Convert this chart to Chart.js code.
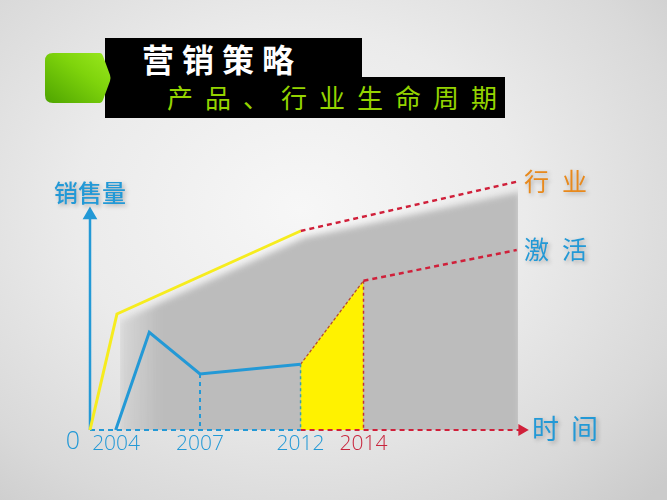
<!DOCTYPE html>
<html>
<head>
<meta charset="utf-8">
<script src="https://cdn.jsdelivr.net/npm/chart.js@4/dist/chart.umd.min.js"></script>
<style>
  html, body { margin:0; padding:0; }
  body {
    width:667px; height:500px; overflow:hidden; position:relative;
    background: radial-gradient(ellipse 75% 80% at 45% 42%, #f7f7f7 0%, #ebebeb 45%, #d9d9d9 80%, #cbcbcb 100%);
    font-family: "Noto Sans CJK SC", "Noto Sans", sans-serif;
  }
  #c { position:absolute; left:0; top:0; }
  .box { position:absolute; background:#000; }
  #box1 { left:105px; top:38px; width:257px; height:40px; }
  #box2 { left:105px; top:77px; width:400px; height:41px; }
  #t1 { position:absolute; left:142px; top:36px; color:#fff; font-size:32px; font-weight:700; letter-spacing:8px; line-height:44px; white-space:nowrap; }
  #t2 { position:absolute; left:167px; top:77px; color:#94d400; font-size:26px; font-weight:400; letter-spacing:12px; line-height:40px; white-space:nowrap; }
  #tab { position:absolute; left:45px; top:53px; }
</style>
</head>
<body>
<div class="box" id="box2"></div>
<div class="box" id="box1"></div>
<svg id="tab" width="68" height="50" viewBox="0 0 68 50">
  <defs>
    <linearGradient id="g" x1="0" y1="1" x2="1" y2="0">
      <stop offset="0" stop-color="#4ea400"/>
      <stop offset="0.6" stop-color="#7fd40c"/>
      <stop offset="1" stop-color="#9ae81e"/>
    </linearGradient>
  </defs>
  <path d="M8 0 H55 Q57 0 58 3 L65 22 Q66 25 65 28 L58 47 Q57 50 55 50 H8 Q0 50 0 42 V8 Q0 0 8 0 Z" fill="url(#g)"/>
</svg>
<div id="t1">营销策略</div>
<div id="t2">产品、行业生命周期</div>
<canvas id="c" width="667" height="500"></canvas>
<script>
// ---- data (x = position on the time line, y = sales level, both 0–100) ----
const yearLabels = ['2004', '2007', '2012', '2014'];
const yearPos = [6.1, 25.7, 49.2, 63.9];

const industryX = [0, 6.3, 49.2];
const industryY = [0, 46.4, 79.6];
const industryTrendX = [49.2, 99.7];
const industryTrendY = [79.6, 99.3];

const productX = [6.0, 13.85, 25.7, 49.2];
const productY = [0, 39.1, 22.4, 26.3];

const activationX = [49.2, 63.9];
const activationY = [26.3, 59.7];
const activationTrendX = [63.9, 99.7];
const activationTrendY = [59.7, 72.0];

const shadowX = [7.0, 50.2, 100.5];
const shadowY = [43.6, 77.0, 95.2];

const timeAxisSplit = 49.2;
const timeAxisEnd = 100.9;
const salesAxisTop = 86.0;

const seriesNames = { industry: '行 业', activation: '激 活', time: '时 间', sales: '销售量' };

// ---- helpers ----
const pts = (xs, ys) => xs.map((x, i) => ({ x, y: ys[i] }));
const BLUE = '#2399d6', RED = '#d0203a', YEL = '#f6ec1e', ORANGE = '#e8891c';

const datasets = [
  { label: 'industry', data: pts(industryX, industryY), borderColor: YEL, borderWidth: 3, order: 1 },
  { label: 'industryTrend', data: pts(industryTrendX, industryTrendY), borderColor: RED, borderWidth: 2.5, borderDash: [5, 4], order: 1 },
  { label: 'product', data: pts(productX, productY), borderColor: BLUE, borderWidth: 3, order: 1 },
  { label: 'activationTrend', data: pts(activationTrendX, activationTrendY), borderColor: RED, borderWidth: 2.5, borderDash: [5, 4], order: 1 },
  { label: 'salesAxis', data: [{ x: 0, y: 0 }, { x: 0, y: salesAxisTop }], borderColor: BLUE, borderWidth: 2.5,
    pointRadius: [0, 6], pointStyle: 'triangle', pointBackgroundColor: BLUE, pointBorderColor: BLUE, order: 2 },
  { label: 'timeAxisA', data: [{ x: 0, y: 0 }, { x: timeAxisSplit, y: 0 }], borderColor: BLUE, borderWidth: 2, borderDash: [5, 4], order: 3 },
  { label: 'timeAxisB', data: [{ x: timeAxisSplit, y: 0 }, { x: timeAxisEnd, y: 0 }], borderColor: RED, borderWidth: 2, borderDash: [5, 4],
    pointRadius: [0, 5], pointStyle: 'triangle', rotation: 90, pointBackgroundColor: RED, pointBorderColor: RED, order: 3 },
  { label: 'guide2007', data: [{ x: productX[2], y: productY[2] }, { x: productX[2], y: 0 }], borderColor: BLUE, borderWidth: 2, borderDash: [4, 4], order: 4 },
  { label: 'guide2012', data: [{ x: activationX[0], y: activationY[0] }, { x: activationX[0], y: 0 }], borderColor: '#3aa0a8', borderWidth: 1.5, borderDash: [3, 3], order: 4 },
  { label: 'guide2014', data: [{ x: activationX[1], y: activationY[1] }, { x: activationX[1], y: 0 }], borderColor: '#c0303a', borderWidth: 1.5, borderDash: [3, 3], order: 4 },
  { label: 'activation', data: pts(activationX, activationY), borderColor: '#b4452c', borderWidth: 1.2, borderDash: [3, 2],
    backgroundColor: '#fff200', fill: { value: 0 }, order: 5 },
  { label: 'shadow', data: pts(shadowX, shadowY), borderWidth: 0, borderColor: 'rgba(0,0,0,0)',
    backgroundColor: (c) => {
      const a = c.chart.chartArea; if (!a) return '#bdbdbd';
      const g = c.chart.ctx.createLinearGradient(a.left + 27, 0, a.left + 70, 0);
      g.addColorStop(0, 'rgba(188,188,188,0.35)');
      g.addColorStop(1, 'rgba(188,188,188,1)');
      return g;
    },
    fill: { value: -20 }, clip: 0, order: 10 }
];
datasets.forEach(d => {
  d.showLine = true;
  if (d.pointRadius === undefined) d.pointRadius = 0;
  if (d.fill === undefined) d.fill = false;
  if (d.clip === undefined) d.clip = false;
  d.tension = 0;
});
const SHADOW_INDEX = datasets.length - 1;

const decorPlugin = {
  id: 'decor',
  beforeDatasetsDraw(chart) { chart.ctx.filter = 'blur(3px)'; },
  afterDatasetDraw(chart, args) { if (args.index === SHADOW_INDEX) chart.ctx.filter = 'none'; },
  afterDatasetsDraw(chart) { chart.ctx.filter = 'none'; },
  afterDraw(chart) {
    const ctx = chart.ctx, xs = chart.scales.x, ys = chart.scales.y;
    const x0 = xs.getPixelForValue(0), y0 = ys.getPixelForValue(0);
    ctx.save();
    ctx.textBaseline = 'alphabetic';
    ctx.textAlign = 'center';
    // year ticks
    ctx.font = '300 21px "Open Sans"';
    yearLabels.forEach((t, i) => {
      ctx.fillStyle = i === yearLabels.length - 1 ? '#c8243c' : BLUE;
      ctx.fillText(t, xs.getPixelForValue(yearPos[i]), y0 + 20);
    });
    ctx.font = '300 25px "Open Sans"';
    ctx.fillStyle = BLUE;
    ctx.fillText('0', x0 - 17, y0 + 19);
    // axis / series names
    ctx.shadowColor = 'rgba(0,0,0,0.25)';
    ctx.shadowBlur = 4; ctx.shadowOffsetX = 2; ctx.shadowOffsetY = 2;
    ctx.textBaseline = 'middle';
    ctx.font = '500 24px "Noto Sans CJK SC"';
    ctx.fillStyle = BLUE;
    ctx.fillText(seriesNames.sales, x0, ys.getPixelForValue(salesAxisTop) - 22);
    const xe = xs.getPixelForValue(100);
    const drawPair = (txt, x, y, color, size, gap) => {
      ctx.font = '400 ' + size + 'px "Noto Sans CJK SC"';
      ctx.fillStyle = color; ctx.textAlign = 'left';
      const ch = txt.replace(' ', '');
      ctx.fillText(ch[0], x, y);
      ctx.fillText(ch[1], x + size + gap, y);
    };
    drawPair(seriesNames.industry, xe + 6, ys.getPixelForValue(industryTrendY[1]), ORANGE, 25, 13);
    drawPair(seriesNames.activation, xe + 6, ys.getPixelForValue(activationTrendY[1]) - 1, BLUE, 25, 13);
    drawPair(seriesNames.time, xe + 14, y0 - 1, BLUE, 27, 12);
    ctx.restore();
  }
};

new Chart(document.getElementById('c'), {
  type: 'scatter',
  data: { datasets },
  options: {
    responsive: false,
    animation: false,
    layout: { padding: { left: 90, right: 149, top: 180, bottom: 70 } },
    scales: {
      x: { type: 'linear', min: 0, max: 100, display: false },
      y: { type: 'linear', min: 0, max: 100, display: false }
    },
    plugins: { legend: { display: false }, tooltip: { enabled: false } },
    elements: { point: { hoverRadius: 0 } }
  },
  plugins: [decorPlugin]
});
</script>
</body>
</html>
